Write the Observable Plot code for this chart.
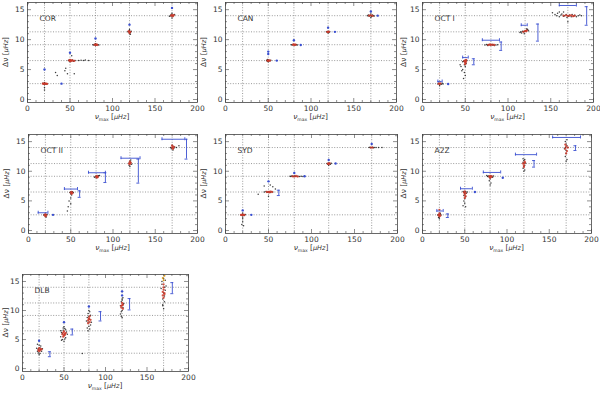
<!DOCTYPE html>
<html><head><meta charset="utf-8">
<script src="https://cdn.jsdelivr.net/npm/d3@7"></script>
<script src="https://cdn.jsdelivr.net/npm/@observablehq/plot@0.6"></script>
<style>
body{margin:0;background:#fff;}
#fig{position:relative;width:600px;height:394px;font-family:"DejaVu Sans",sans-serif;}
#fig svg{position:absolute;overflow:visible;background:transparent}
</style></head><body><div id="fig"></div>
<script>
// reference grid values
const numaxRef = [20, 50, 80, 120, 170];
const dnuRef = [2.65, 6.5, 9.15, 11.3, 14.0];
const xTicks = [0, 50, 100, 150, 200];
const yTicks = [0, 5, 10, 15];
const xMinor = [10,20,30,40,60,70,80,90,110,120,130,140,160,170,180,190];
const yMinor = [1,2,3,4,6,7,8,9,11,12,13,14,16];

// COR
const corBlack = [[19,2.6],[20,2.7],[21,2.65],[22,2.6],[18,2.7],[20,2.5],[20,2.85],[23,2.65],[20,2.0],[20,1.6],
  [33,4.5],[35,4.0],[45,5.2],[47,4.3],[55,4.3],[52,7.3],[44,4.8],
  [48,6.5],[49,6.6],[50,6.45],[51,6.55],[52,6.5],[53,6.6],[54,6.4],[50,6.3],[56,6.5],[60,6.5],[63,6.55],[66,6.5],[68,6.6],[72,6.5],
  [78,9.1],[79,9.2],[80,9.15],[81,9.1],[82,9.2],[83,9.15],[80,9.3],[80,9.0],[77,9.15],[84,9.1],
  [119,11.3],[120,11.5],[121,11.2],[120,11.0],[122,11.4],[118,11.3],[120,11.7],[121,10.9],
  [168,14.0],[169,14.2],[170,13.9],[171,14.1],[172,14.0],[170,14.4],[170,13.6],[173,14.2],[167,13.9]];
const corRed = [[18,2.65],[19,2.6],[20,2.7],[21,2.6],[22,2.65],[23,2.6],
  [49,6.5],[50,6.6],[51,6.4],[52,6.55],[53,6.5],[55,6.45],[50,6.5],
  [79,9.15],[80,9.1],[81,9.2],[82,9.1],
  [119,11.4],[120,11.3],[121,11.3],[120,11.1],
  [169,14.0],[170,14.1],[171,13.9],[172,14.1]];
const corBlue = [[20,5.0],[40,2.65],[50,7.8],[80,10.2],[120,12.5],[170,15.3]];

// CAN
const canBlack = [[48,6.5],[49,6.4],[50,6.6],[51,6.5],[52,6.45],[53,6.55],[50,6.3],[49,6.7],
  [77,9.15],[78,9.1],[79,9.2],[80,9.15],[81,9.1],[82,9.2],[83,9.15],[84,9.1],
  [119,11.3],[120,11.4],[121,11.2],[120,11.1],[122,11.3],[118,11.3],
  [166,14.0],[167,14.1],[168,13.9],[169,14.05],[170,14.0],[171,13.9],[172,14.1],[173,14.0],[174,13.95],[170,13.7],[170,14.3]];
const canRed = [[49,6.5],[50,6.45],[51,6.55],[52,6.5],[79,9.15],[80,9.2],[81,9.1],[82,9.15],
  [119,11.3],[120,11.25],[121,11.35],[168,14.0],[170,14.05],[172,13.95]];
const canBlue = [[50,8.0],[50,7.6],[60,6.5],[80,9.9],[88,9.1],[120,12.0],[128,11.3],[170,14.7],[178,14.0]];

// OCT I
const oct1Black = [[18,2.6],[19,2.7],[20,2.6],[21,2.65],[22,2.55],[23,2.7],[20,2.3],[24,2.6],
  [47,6.3],[48,6.4],[49,6.5],[50,6.45],[51,6.55],[52,6.5],[50,6.2],[51,6.0],[49,5.8],[50,5.5],[47,5.0],[46,4.8],[49,4.5],[50,4.0],[48,3.5],[45,5.5],[44,5.8],
  [73,9.1],[75,9.2],[76,9.0],[77,9.15],[78,9.2],[79,9.1],[80,9.15],[81,9.2],[82,9.1],[83,9.15],[84,9.0],[86,9.1],[88,9.15],
  [114,11.2],[115,11.3],[116,11.1],[117,11.4],[118,11.35],[119,11.3],[120,11.4],[121,11.5],[122,11.6],[123,11.7],[122,11.8],[124,11.5],[119,11.0],
  [152,14.5],[155,14.2],[157,14.0],[158,14.4],[160,13.8],[162,14.1],[163,14.3],[165,13.9],[166,14.0],[168,14.2],[169,13.7],[170,14.0],[171,13.9],
  [172,14.1],[174,13.8],[175,14.2],[177,13.9],[178,14.05],[180,13.8],[182,14.0],[184,14.1],[186,14.0],[170,13.0],[160,14.6],[165,14.6]];
const oct1Red = [[19,2.65],[20,2.6],[21,2.7],[49,6.4],[50,6.5],[51,6.3],[51,6.6],[50,6.1],[50,5.9],
  [77,9.1],[79,9.2],[80,9.1],[82,9.15],[84,9.1],[118,11.3],[120,11.45],[121,11.4],[122,11.5],
  [165,14.0],[168,14.05],[170,13.95],[172,14.0],[174,14.05],[176,13.9],[178,14.0]];
const oct1Blue = [[30,2.6]];
const oct1HBar = [[18,23,3.0],[47,53.5,7.0],[70,90,9.9],[115.5,122.5,12.4],[160,180,15.7]];
const oct1VBar = [[60,5.8,6.8],[92,8.2,9.6],[135,9.75,12.6],[192,12.4,15.5]];

// OCT II
const oct2Black = [[19,2.7],[20,2.6],[21,2.65],[22,2.7],[20,2.4],[21,2.3],[18,2.6],[50,4.5],[48,5.0],[46,3.3],[47,4.0],
  [49,6.4],[50,6.5],[51,6.45],[52,6.55],[53,6.4],[50,6.2],[51,6.0],[50,5.5],
  [79,9.1],[80,9.2],[81,9.0],[82,9.15],[83,9.25],[80,8.9],[84,9.3],[78,9.0],
  [119,11.0],[120,11.3],[121,11.5],[120,11.7],[121,11.9],[119,11.4],[122,11.2],[120,10.8],
  [169,13.8],[170,14.0],[171,14.2],[172,13.9],[173,14.1],[170,14.4],[171,13.6],[168,14.0],[175,14.0],[178,14.3]];
const oct2Red = [[19,2.6],[20,2.75],[21,2.55],[20,2.4],[50,6.4],[51,6.5],[52,6.3],[51,6.2],
  [80,9.1],[81,9.2],[82,9.0],[81,8.95],[120,11.2],[121,11.4],[120,11.6],[119,11.3],
  [170,14.0],[171,13.8],[172,14.1],[170,14.3]];
const oct2Blue = [[29,2.65]];
const oct2HBar = [[11.5,23,3.0],[42.5,58,7.0],[71,91,9.75],[109.5,132,12.2],[158,185,15.4]];
const oct2VBar = [[60.5,5.6,6.7],[91,8.1,9.75],[130,8.0,12.05],[187,12.05,15.4]];

// SYD
const sydBlack = [[18,2.6],[19,2.7],[20,2.6],[21,2.65],[22,2.55],[23,2.7],[20,2.3],[20,2.0],[20,1.5],[19,1.0],[21,0.8],[20,2.9],
  [45,6.5],[47,6.6],[48,6.5],[49,6.45],[50,6.55],[51,6.5],[52,6.4],[53,6.6],[55,6.5],[45,7.5],[55,7.4],[58,7.0],[52,7.7],[38,6.1],[50,5.8],
  [75,9.15],[76,9.1],[77,9.2],[78,9.15],[79,9.1],[80,9.2],[81,9.15],[82,9.1],[84,9.15],[86,9.1],[88,9.15],[90,9.1],
  [118,11.3],[119,11.2],[120,11.4],[121,11.3],[122,11.2],[120,11.0],[123,11.35],
  [167,14.0],[168,14.05],[169,13.95],[170,14.0],[171,14.05],[172,13.95],[173,14.0],[175,14.0],[178,14.0],[182,14.0]];
const sydRed = [[19,2.6],[20,2.7],[21,2.6],[22,2.65],[18,2.65],[48,6.5],[50,6.5],[51,6.45],[52,6.55],[54,6.5],
  [78,9.15],[80,9.1],[82,9.2],[84,9.1],[119,11.3],[120,11.2],[121,11.35],[169,14.0],[171,14.0]];
const sydBlue = [[20,3.4],[30,2.65],[50,8.3],[80,9.7],[92,9.15],[120,11.9],[128,11.3],[170,14.6]];
const sydVBar = [[62,5.9,6.8]];

// A2Z
const a2zBlack = [[18,2.6],[19,2.7],[20,2.5],[21,2.8],[22,2.6],[20,2.3],[19,2.2],[20,2.0],[21,2.9],
  [49,6.5],[50,6.4],[51,6.6],[50,6.2],[49,5.9],[51,5.7],[50,5.4],[49,5.0],[50,4.6],[48,4.2],[51,4.0],[52,6.3],[48,6.6],[53,6.5],
  [77,9.1],[78,9.2],[79,9.0],[80,9.15],[81,9.25],[82,9.1],[83,9.0],[80,8.7],[79,8.4],[81,8.0],[80,7.7],[84,9.2],[76,9.3],
  [119,11.5],[120,11.3],[121,11.0],[120,10.8],[119,10.5],[121,10.2],[120,11.8],[121,12.0],[119,12.1],[122,11.4],[120,10.0],
  [169,14.0],[170,13.5],[171,14.3],[170,13.0],[169,12.5],[171,12.0],[170,11.7],[170,14.6],[169,15.0],[171,15.3],[172,14.0],[168,13.8]];
const a2zRed = [[19,2.6],[20,2.7],[21,2.5],[20,2.4],[20,2.9],[20,3.5],[49,6.4],[50,6.6],[51,6.3],[50,6.0],[51,5.8],[50,5.5],
  [79,9.1],[80,9.2],[81,9.0],[82,9.15],[80,8.9],[119,11.3],[120,11.0],[121,11.4],[120,10.7],[121,11.6],
  [169,13.8],[170,14.2],[171,13.4],[170,13.0],[172,14.0],[169,14.5]];
const a2zBlue = [[62,6.5],[95,8.9]];
const a2zHBar = [[17,24.5,3.3],[45,59,7.05],[72,92.5,9.8],[110,135,12.8],[154,187,15.7]];
const a2zVBar = [[30,2.2,2.8],[132,10.7,11.8],[181,13.5,14.3]];

// DLB
const dlbBlack = [[18,3.0],[19,3.4],[20,3.2],[21,3.6],[22,3.3],[23,3.0],[19,2.7],[21,2.6],[20,4.0],[22,3.9],[17,3.5],[24,3.4],[18,4.2],[20,2.4],[72,2.6],
  [46,5.5],[47,6.2],[48,5.0],[49,6.6],[50,5.8],[51,6.9],[52,5.3],[53,6.3],[47,4.9],[49,7.0],[51,5.1],[48,6.0],[52,6.7],[50,4.7],[46,6.5],[54,5.9],[50,7.2],
  [78,7.0],[79,8.0],[80,9.0],[81,8.5],[82,7.5],[79,9.5],[80,10.0],[81,6.8],[78,8.8],[82,9.2],[80,7.3],[77,8.2],[83,8.0],[81,9.8],[79,6.5],
  [119,9.0],[120,10.0],[121,11.0],[119,11.5],[120,12.0],[121,10.5],[118,10.8],[122,11.2],[120,8.8],[119,9.8],[121,12.2],[120,11.8],[118,9.4],
  [169,12.0],[170,13.0],[171,14.0],[168,15.0],[170,15.5],[172,13.5],[169,11.0],[170,10.3],[171,12.5],[168,14.5],[172,15.2],[167,13.8],[173,14.2],[169,10.8],[171,11.5]];
const dlbRed = [[19,3.2],[20,3.5],[21,3.1],[22,3.4],[20,3.0],[23,3.3],
  [48,5.9],[49,6.2],[50,5.7],[51,6.0],[50,6.4],[52,6.1],[49,5.5],[51,5.8],
  [79,8.3],[80,8.7],[81,8.0],[80,8.5],[82,8.4],[79,7.8],[81,9.0],
  [119,10.5],[120,10.9],[121,10.3],[120,11.3],[119,10.8],[121,11.0],
  [169,13.2],[170,13.6],[171,13.0],[170,14.0],[169,12.6],[171,12.8],[170,12.2],[170,14.5]];
const dlbOrange = [[169,15.6],[171,16.0],[170,15.2]];
const dlbBlue = [[20,4.8],[50,8.0],[80,10.7],[120,13.3],[120,12.6]];
const dlbVBar = [[33,2.05,2.9],[60,5.8,6.8],[94,8.2,9.8],[129,10.1,12.05],[180.5,12.9,14.8]];

const panels = [
  {name:"COR", black:corBlack, red:corRed, blue:corBlue, hbar:[], vbar:[], left:0, top:0, w:200, h:130, ml:27, mr:3, mt:2, mb:28, yl:19},
  {name:"CAN", black:canBlack, red:canRed, blue:canBlue, hbar:[], vbar:[], left:200, top:0, w:200, h:130, ml:25, mr:4, mt:2, mb:28, yl:19},
  {name:"OCT I", black:oct1Black, red:oct1Red, blue:oct1Blue, hbar:oct1HBar, vbar:oct1VBar, left:400, top:0, w:200, h:130, ml:22, mr:7, mt:2, mb:28, yl:16},
  {name:"OCT II", black:oct2Black, red:oct2Red, blue:oct2Blue, hbar:oct2HBar, vbar:oct2VBar, left:0, top:130, w:200, h:130, ml:28, mr:3, mt:4, mb:27, yl:19},
  {name:"SYD", black:sydBlack, red:sydRed, blue:sydBlue, hbar:[], vbar:sydVBar, left:200, top:130, w:200, h:130, ml:25, mr:3, mt:4, mb:27, yl:19},
  {name:"A2Z", black:a2zBlack, red:a2zRed, blue:a2zBlue, hbar:a2zHBar, vbar:a2zVBar, left:400, top:130, w:200, h:130, ml:22, mr:9, mt:4, mb:27, yl:16},
  {name:"DLB", black:dlbBlack, red:dlbRed, blue:dlbBlue, orange:dlbOrange, hbar:[], vbar:dlbVBar, left:0, top:260, w:200, h:134, ml:22, mr:12, mt:14, mb:23, yl:14}
];

const fig = document.getElementById("fig");
const BLUE = "#3a4fd0", RED = "#d03a2a", TXT = "#333";

function makePanel(p){
  const H = p.h - p.mt - p.mb, W = p.w - p.ml - p.mr;
  const grid = {stroke:"#707070", strokeWidth:0.7, strokeDasharray:"1,1.6"};
  const tk = {stroke:"#444", strokeWidth:0.6};
  const marks = [
    Plot.ruleX(numaxRef, grid),
    Plot.ruleY(dnuRef, grid),
    Plot.dot(p.black, {x:d=>d[0], y:d=>d[1], r:0.75, fill:"#1a1a1a", stroke:"none", fillOpacity:0.85}),
    Plot.dot(p.red, {x:d=>d[0], y:d=>d[1], r:1.15, fill:RED, stroke:"none", fillOpacity:0.85}),
    Plot.dot(p.orange || [], {x:d=>d[0], y:d=>d[1], r:1.0, fill:"#e0a020", stroke:"none"}),
    Plot.dot(p.blue, {x:d=>d[0], y:d=>d[1], r:1.2, fill:BLUE, stroke:"none"}),
    // horizontal error bars with caps
    Plot.ruleY(p.hbar, {x1:d=>d[0], x2:d=>d[1], y:d=>d[2], stroke:BLUE, strokeWidth:0.9}),
    Plot.ruleX(p.hbar, {x:d=>d[0], y1:d=>d[2], y2:d=>d[2], insetTop:-1.5, insetBottom:-1.5, stroke:BLUE, strokeWidth:0.9}),
    Plot.ruleX(p.hbar, {x:d=>d[1], y1:d=>d[2], y2:d=>d[2], insetTop:-1.5, insetBottom:-1.5, stroke:BLUE, strokeWidth:0.9}),
    // vertical error bars with caps
    Plot.ruleX(p.vbar, {x:d=>d[0], y1:d=>d[1], y2:d=>d[2], stroke:BLUE, strokeWidth:0.9}),
    Plot.ruleY(p.vbar, {y:d=>d[1], x1:d=>d[0], x2:d=>d[0], insetLeft:-1.5, insetRight:-1.5, stroke:BLUE, strokeWidth:0.9}),
    Plot.ruleY(p.vbar, {y:d=>d[2], x1:d=>d[0], x2:d=>d[0], insetLeft:-1.5, insetRight:-1.5, stroke:BLUE, strokeWidth:0.9}),
    // inward ticks
    Plot.ruleX(xTicks, {...tk, insetTop:H-4}),
    Plot.ruleX(xTicks, {...tk, insetBottom:H-4}),
    Plot.ruleX(xMinor, {...tk, insetTop:H-2}),
    Plot.ruleX(xMinor, {...tk, insetBottom:H-2}),
    Plot.ruleY(yTicks, {...tk, insetRight:W-4}),
    Plot.ruleY(yTicks, {...tk, insetLeft:W-4}),
    Plot.ruleY(yMinor, {...tk, insetRight:W-2}),
    Plot.ruleY(yMinor, {...tk, insetLeft:W-2}),
    Plot.frame({stroke:"#444", strokeWidth:0.8}),
    Plot.axisX({ticks:xTicks, tickSize:0, tickPadding:3, fontSize:7.5, label:null, tickFormat:d=>String(d), fill:TXT}),
    Plot.axisY({ticks:yTicks, tickSize:0, tickPadding:3, fontSize:7.5, label:null, tickFormat:d=>String(d), fill:TXT}),
    Plot.text([p.name], {frameAnchor:"top-left", dx:12, dy:13, fontSize:7.5, fill:TXT, textAnchor:"start"})
  ];
  const svg = Plot.plot({
    width:p.w, height:p.h, marginLeft:p.ml, marginRight:p.mr, marginTop:p.mt, marginBottom:p.mb,
    x:{domain:[0,200]}, y:{domain:[-0.5,16.2]},
    style:{fontFamily:"DejaVu Sans, sans-serif", color:TXT, background:"transparent"},
    marks
  });
  svg.style.left = p.left + "px";
  svg.style.top = p.top + "px";
  const s = d3.select(svg);
  // y label
  const yl = s.append("text")
    .attr("transform", `translate(${p.ml-p.yl},${p.mt + H/2}) rotate(-90)`)
    .attr("text-anchor","middle").attr("font-size",7.5).attr("fill",TXT);
  yl.append("tspan").text("Δν [");
  yl.append("tspan").text("μHz").attr("font-style","italic").attr("font-size",6.5);
  yl.append("tspan").text("]");
  // x label
  const xl = s.append("text")
    .attr("x", p.ml + W/2).attr("y", p.mt + H + 17)
    .attr("text-anchor","middle").attr("font-size",7.5).attr("fill",TXT);
  xl.append("tspan").text("ν").attr("font-style","italic");
  xl.append("tspan").text("max").attr("font-size",4.5).attr("dy",1.8);
  xl.append("tspan").text(" [").attr("dy",-1.8);
  xl.append("tspan").text("μHz").attr("font-style","italic").attr("font-size",6.5);
  xl.append("tspan").text("]");
  fig.appendChild(svg);
}
panels.forEach(makePanel);
</script>
</body></html>
